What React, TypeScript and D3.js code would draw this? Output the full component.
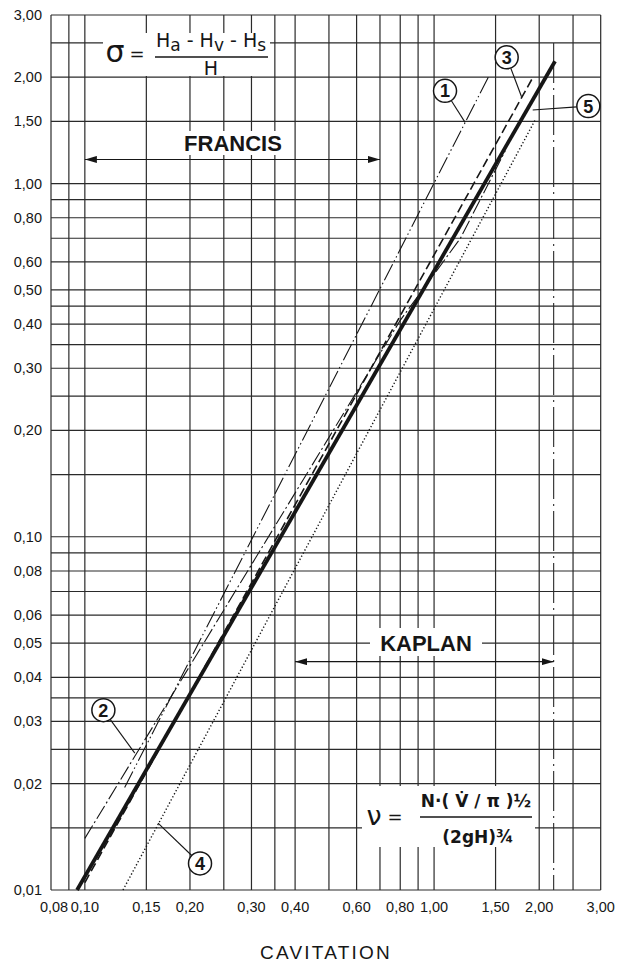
import React from "react";
import * as d3 from "d3";

// ---- data ----
const xGridValues = [0.08, 0.09, 0.1, 0.15, 0.2, 0.25, 0.3, 0.35, 0.4, 0.5, 0.6, 0.7, 0.8, 0.9, 1, 1.5, 2, 2.5, 3];
const yGridValues = [3, 2.5, 2, 1.5, 1, 0.9, 0.8, 0.7, 0.6, 0.5, 0.45, 0.4, 0.35, 0.3, 0.25, 0.2, 0.15, 0.1, 0.09, 0.08, 0.07, 0.06, 0.05, 0.04, 0.035, 0.03, 0.025, 0.02, 0.015, 0.01];
const xTickValues = [0.08, 0.1, 0.15, 0.2, 0.3, 0.4, 0.6, 0.8, 1, 1.5, 2, 3];
const yTickValues = [3, 2, 1.5, 1, 0.8, 0.6, 0.5, 0.4, 0.3, 0.2, 0.1, 0.08, 0.06, 0.05, 0.04, 0.03, 0.02, 0.01];

const curve1: [number, number][] = [[0.13, 0.0195], [1.43, 2.0]];
const curve2: [number, number][] = [[0.10, 0.014], [0.8, 0.41], [1.19, 0.70], [1.6, 1.24]];
const curve3: [number, number][] = [[0.10, 0.0105], [1.92, 2.0]];
const curve4: [number, number][] = [[0.1286, 0.01], [1.945, 1.51]];
const curve5: [number, number][] = [[0.095, 0.01], [2.22, 2.22]];

const kaplanLimit = 2.2; // vertical dash-dot boundary
const francisRange = [0.1, 0.7];
const francisLevel = 1.17;
const kaplanRange = [0.4, 2.2];
const kaplanLevel = 0.0443;

const labelNames = ["1", "2", "3", "4", "5"];
const labelCircle: [number, number][] = [[1.075, 1.83], [0.113, 0.0323], [1.614, 2.277], [0.2137, 0.01189], [2.765, 1.657]];
const labelTarget: [number, number][] = [[1.227, 1.49], [0.139, 0.0244], [1.78, 1.761], [0.162, 0.01546], [1.916, 1.615]];

const fmt = (v: number) => v.toFixed(2).replace(".", ",");

export default function App() {
  const W = 619, H = 964;
  const x = d3.scaleLog().domain([0.08, 3]).range([51, 600.7]);
  const y = d3.scaleLog().domain([0.01, 3]).range([890, 15]);
  const line = d3.line<[number, number]>().x(d => x(d[0])).y(d => y(d[1]));
  const ink = "#161616";
  const grid = "#2a2a2a";
  const tickFont = "'Liberation Sans', Arial, sans-serif";
  const mathFont = "'DejaVu Sans', sans-serif";

  const curves = [
    { d: curve1, w: 1.1, dash: "18,3,1.5,3,1.5,3" },
    { d: curve2, w: 1.1, dash: "15,3,2,3" },
    { d: curve3, w: 1.6, dash: "9,4" },
    { d: curve4, w: 1.4, dash: "1.3,2.2" },
    { d: curve5, w: 3.8, dash: undefined },
  ];

  const r = 11.5;

  return (
    <svg width={W} height={H} style={{ position: "absolute", left: 0, top: 0, background: "#fff" }}>
      <rect x={0} y={0} width={W} height={H} fill="#fff" />
      {xGridValues.map((v, i) => (
        <line key={"gx" + i} x1={x(v)} x2={x(v)} y1={y(3)} y2={y(0.01)} stroke={grid} strokeWidth={1.2} />
      ))}
      {yGridValues.map((v, i) => (
        <line key={"gy" + i} x1={x(0.08)} x2={x(3)} y1={y(v)} y2={y(v)} stroke={grid} strokeWidth={1.2} />
      ))}
      <line x1={x(kaplanLimit)} x2={x(kaplanLimit)} y1={y(2.5)} y2={y(0.01)} stroke={grid} strokeWidth={1.1}
        strokeDasharray="40,5,2,5" />
      <rect x={103} y={33} width={167} height={43} fill="#fff" />
      <rect x={176} y={131} width={114} height={24} fill="#fff" />
      <rect x={370} y={628} width={112} height={28} fill="#fff" />
      <rect x={362} y={786} width={173} height={61} fill="#fff" />

      {curves.map((c, i) => (
        <path key={"c" + i} d={line(c.d) || ""} fill="none" stroke={ink} strokeWidth={c.w}
          strokeDasharray={c.dash} strokeLinecap="butt" />
      ))}

      <defs>
        <marker id="ah" viewBox="0 0 12 7" refX="12" refY="3.5" markerWidth="12" markerHeight="7"
          markerUnits="userSpaceOnUse" orient="auto-start-reverse">
          <path d="M0,0 L12,3.5 L0,7 Z" fill={ink} />
        </marker>
      </defs>
      <line x1={x(francisRange[0])} x2={x(francisRange[1])} y1={y(francisLevel)} y2={y(francisLevel)}
        stroke={ink} strokeWidth={1.1} markerStart="url(#ah)" markerEnd="url(#ah)" />
      <line x1={x(kaplanRange[0])} x2={x(kaplanRange[1])} y1={y(kaplanLevel)} y2={y(kaplanLevel)}
        stroke={ink} strokeWidth={1.1} markerStart="url(#ah)" markerEnd="url(#ah)" />
      <text x={233} y={151} textAnchor="middle" fontFamily={tickFont}
        fontWeight="bold" fontSize={22} fill={ink}>FRANCIS</text>
      <text x={426} y={651} textAnchor="middle" fontFamily={tickFont}
        fontWeight="bold" fontSize={22} fill={ink}>KAPLAN</text>

      {labelNames.map((n, i) => {
        const cx = x(labelCircle[i][0]), cy = y(labelCircle[i][1]);
        const tx = x(labelTarget[i][0]), ty = y(labelTarget[i][1]);
        const dx = tx - cx, dy = ty - cy, L = Math.hypot(dx, dy);
        return (
          <g key={"l" + i}>
            <line x1={cx + (dx / L) * r} y1={cy + (dy / L) * r} x2={tx} y2={ty} stroke={ink} strokeWidth={1.1} />
            <circle cx={cx} cy={cy} r={r} fill="#fff" stroke={ink} strokeWidth={1.5} />
            <text x={cx} y={cy + 6.5} textAnchor="middle" fontFamily={tickFont} fontWeight="bold"
              fontSize={18} fill={ink}>{n}</text>
          </g>
        );
      })}

      {yTickValues.map((v, i) => (
        <text key={"yt" + i} x={42} y={y(v) + 5} textAnchor="end" fontFamily={tickFont} fontSize={14.5}
          fill={ink}>{fmt(v)}</text>
      ))}
      {xTickValues.map((v, i) => (
        <text key={"xt" + i} x={x(v) + (i === 0 ? 3 : 0)} y={912} textAnchor="middle" fontFamily={tickFont}
          fontSize={14.5} fill={ink}>{fmt(v)}</text>
      ))}
      <text x={326} y={959} textAnchor="middle" fontFamily={tickFont} fontSize={19} fill={ink}
        letterSpacing={2.2}>CAVITATION</text>

      <text x={115} y={62} textAnchor="middle" fontFamily={mathFont} fontSize={30} fill={ink}>σ</text>
      <text x={137} y={60} textAnchor="middle" fontFamily={mathFont} fontSize={18} fill={ink}>=</text>
      <text x={211} y={47} textAnchor="middle" fontFamily={mathFont} fontSize={19} fill={ink}>
        <tspan>H</tspan><tspan dy={4} fontSize={17}>a</tspan><tspan dy={-4}> - H</tspan>
        <tspan dy={4} fontSize={17}>v</tspan><tspan dy={-4}> - H</tspan><tspan dy={4} fontSize={17}>s</tspan>
      </text>
      <line x1={155} x2={268} y1={57} y2={57} stroke={ink} strokeWidth={1.6} />
      <text x={211} y={75} textAnchor="middle" fontFamily={mathFont} fontSize={19} fill={ink}>H</text>

      <text x={374} y={825} textAnchor="middle" fontFamily={mathFont} fontSize={27} fill={ink}>ν</text>
      <text x={395} y={823} textAnchor="middle" fontFamily={mathFont} fontSize={18} fill={ink}>=</text>
      <text x={476} y={807} textAnchor="middle" fontFamily={mathFont} fontWeight="bold" fontSize={17} fill={ink}>
        N·( V̇ / π )½
      </text>
      <line x1={420} x2={532} y1={817} y2={817} stroke={ink} strokeWidth={1.6} />
      <text x={478} y={843} textAnchor="middle" fontFamily={mathFont} fontWeight="bold" fontSize={17} fill={ink}>
        (2gH)¾
      </text>
    </svg>
  );
}
